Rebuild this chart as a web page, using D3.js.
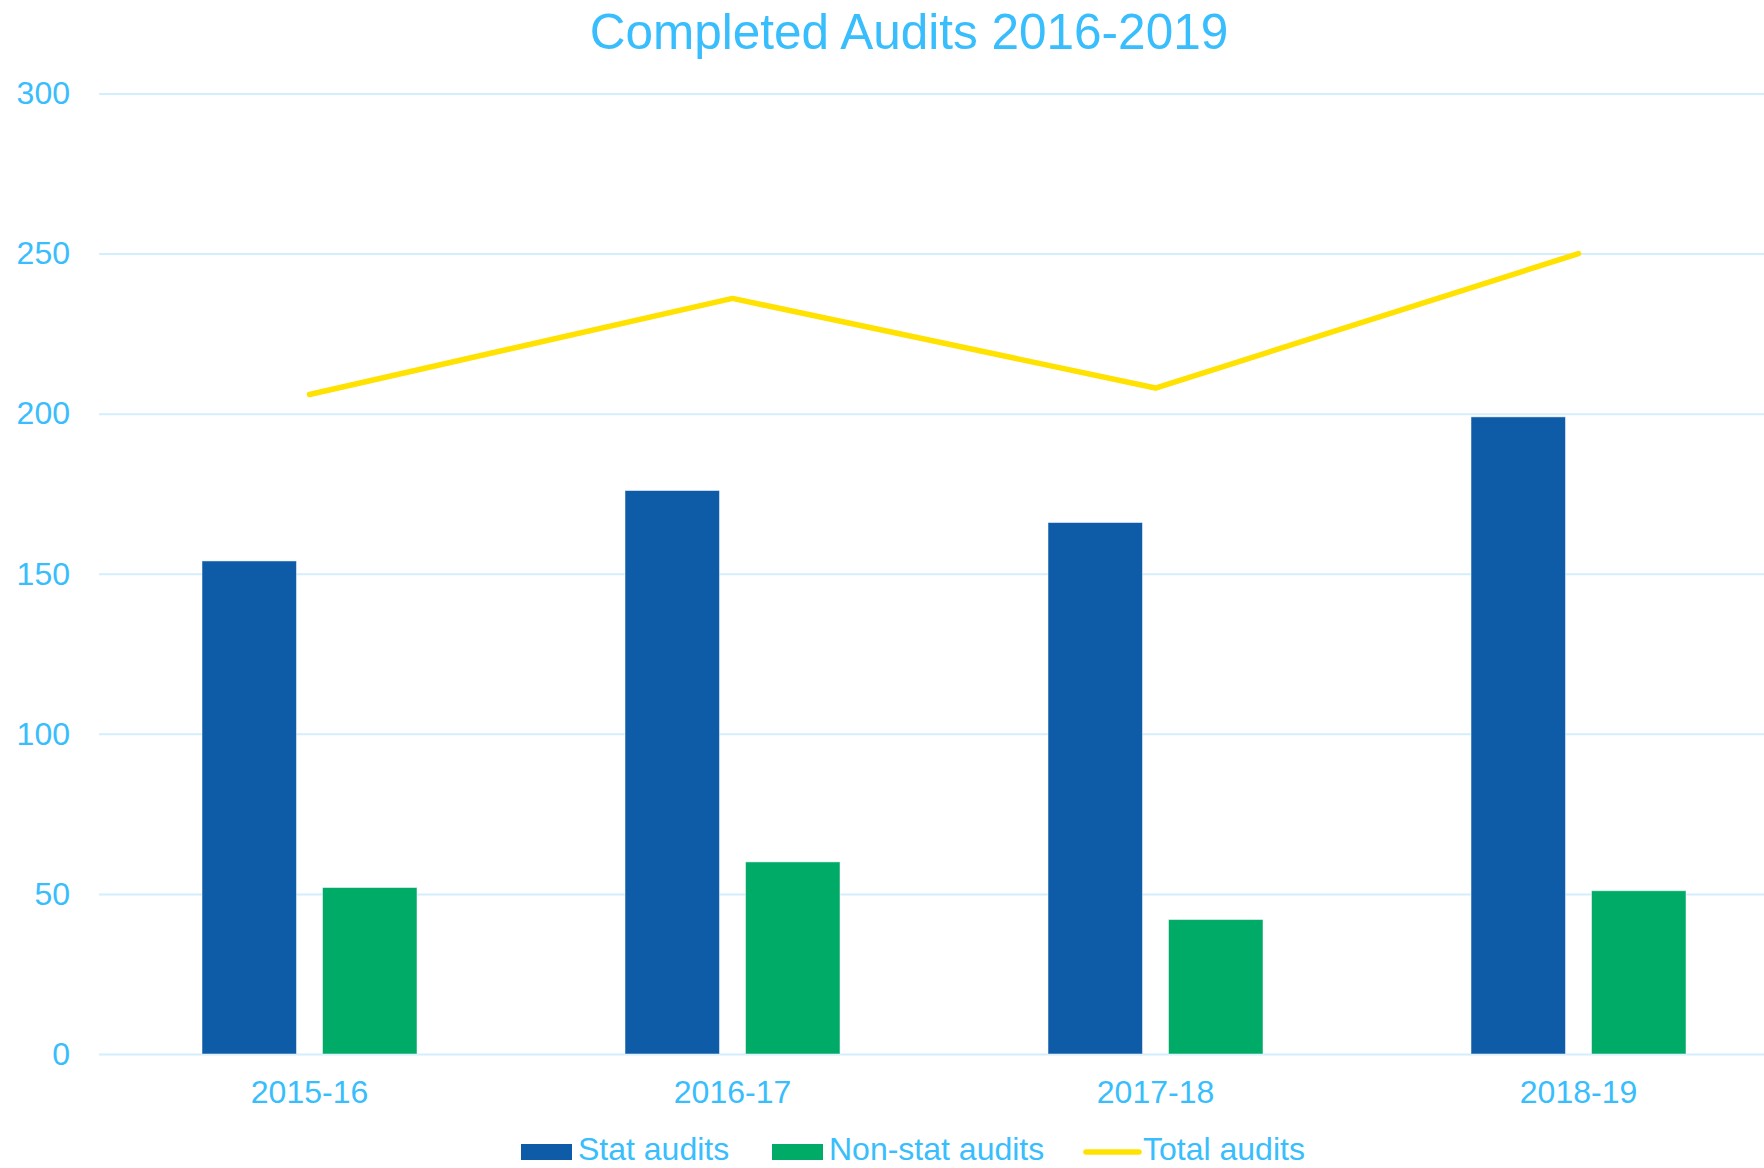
<!DOCTYPE html>
<html>
<head>
<meta charset="utf-8">
<script src="https://cdn.jsdelivr.net/npm/d3@7"></script>
<style>
  body { margin: 0; background: #fff; overflow: hidden; }
  svg { display: block; font-family: "Liberation Sans", Arial, sans-serif; }
</style>
</head>
<body>
<div id="chart"></div>
<script>
// chart data
const years = ['2015-16', '2016-17', '2017-18', '2018-19']
const statAudits = [154, 176, 166, 199]
const nonStatAudits = [52, 60, 42, 51]
const totalAudits = [206, 236, 208, 250]
const yTicks = [0, 50, 100, 150, 200, 250, 300]

const seriesNames = ['Stat audits', 'Non-stat audits']
const barColors = ['#0E5BA8', '#00AA67']
const lineColor = '#FFE200'
const textColor = '#38BDFD'
const gridColor = '#D5EEFB'

const width = 1764
const height = 1168

const svg = d3.select('#chart')
    .append('svg')
    .attr('width', width)
    .attr('height', height)

// scales
const xScale = d3.scaleBand()
    .domain(years)
    .range([98, 1790])

const xSub = d3.scaleBand()
    .domain(seriesNames)
    .range([0, xScale.bandwidth()])
    .paddingInner(0.216)
    .paddingOuter(0.863)

const yScale = d3.scaleLinear()
    .domain([0, 300])
    .range([1054, 93.5])

// title
svg.append('text')
    .attr('x', 909)
    .attr('y', 49)
    .attr('text-anchor', 'middle')
    .attr('font-size', '49.5px')
    .attr('fill', textColor)
    .text('Completed Audits 2016-2019')

// gridlines
const gridAxis = d3.axisRight(yScale)
    .tickValues(yTicks)
    .tickSize(width - 99)
    .tickFormat('')

const gridGroup = svg.append('g')
    .attr('transform', 'translate(99, 0)')
    .call(gridAxis)
gridGroup.select('.domain').remove()
gridGroup.selectAll('line')
    .attr('stroke', gridColor)
    .attr('stroke-width', 2)

// y axis labels
const yAxis = d3.axisLeft(yScale)
    .tickValues(yTicks)
    .tickSize(0)
    .tickPadding(29)

const yGroup = svg.append('g')
    .attr('transform', 'translate(99, 0)')
    .call(yAxis)
yGroup.select('.domain').remove()
yGroup.selectAll('text')
    .attr('font-family', '"Liberation Sans", Arial, sans-serif')
    .attr('font-size', '32px')
    .attr('fill', textColor)

// x axis labels
const xAxis = d3.axisBottom(xScale)
    .tickSize(0)
    .tickPadding(26)

const xGroup = svg.append('g')
    .attr('transform', `translate(0, ${yScale(0)})`)
    .call(xAxis)
xGroup.select('.domain').remove()
xGroup.selectAll('text')
    .attr('font-family', '"Liberation Sans", Arial, sans-serif')
    .attr('font-size', '32px')
    .attr('fill', textColor)

// bars
const barData = []
years.forEach((yr, i) => {
    barData.push({ year: yr, series: seriesNames[0], value: statAudits[i], color: barColors[0] })
    barData.push({ year: yr, series: seriesNames[1], value: nonStatAudits[i], color: barColors[1] })
})

svg.selectAll('.bar')
    .data(barData)
    .enter()
    .append('rect')
        .attr('class', 'bar')
        .attr('x', d => xScale(d.year) + xSub(d.series))
        .attr('y', d => yScale(d.value))
        .attr('width', xSub.bandwidth())
        .attr('height', d => yScale(0) - yScale(d.value))
        .attr('fill', d => d.color)
        .attr('stroke', 'rgba(255,255,255,0.5)')
        .attr('stroke-width', 1)

// total line
const line = d3.line()
    .x((d, i) => xScale(years[i]) + xScale.bandwidth() / 2)
    .y(d => yScale(d))

svg.append('path')
    .datum(totalAudits)
    .attr('d', line)
    .attr('fill', 'none')
    .attr('stroke', lineColor)
    .attr('stroke-width', 5.5)
    .attr('stroke-linecap', 'round')
    .attr('stroke-linejoin', 'round')

// legend
const legend = svg.append('g')
const legendItems = [
    { label: 'Stat audits', type: 'rect', color: barColors[0], x: 521 },
    { label: 'Non-stat audits', type: 'rect', color: barColors[1], x: 772 },
    { label: 'Total audits', type: 'line', color: lineColor, x: 1086 }
]

legendItems.forEach(item => {
    if (item.type === 'rect') {
        legend.append('rect')
            .attr('x', item.x)
            .attr('y', 1144)
            .attr('width', 51)
            .attr('height', 16)
            .attr('fill', item.color)
    } else {
        legend.append('line')
            .attr('x1', item.x)
            .attr('x2', item.x + 53)
            .attr('y1', 1152)
            .attr('y2', 1152)
            .attr('stroke', item.color)
            .attr('stroke-width', 5.5)
            .attr('stroke-linecap', 'round')
    }
    legend.append('text')
        .attr('x', item.x + 57)
        .attr('y', 1160)
        .attr('font-size', '32px')
        .attr('fill', textColor)
        .text(item.label)
})
</script>
</body>
</html>
